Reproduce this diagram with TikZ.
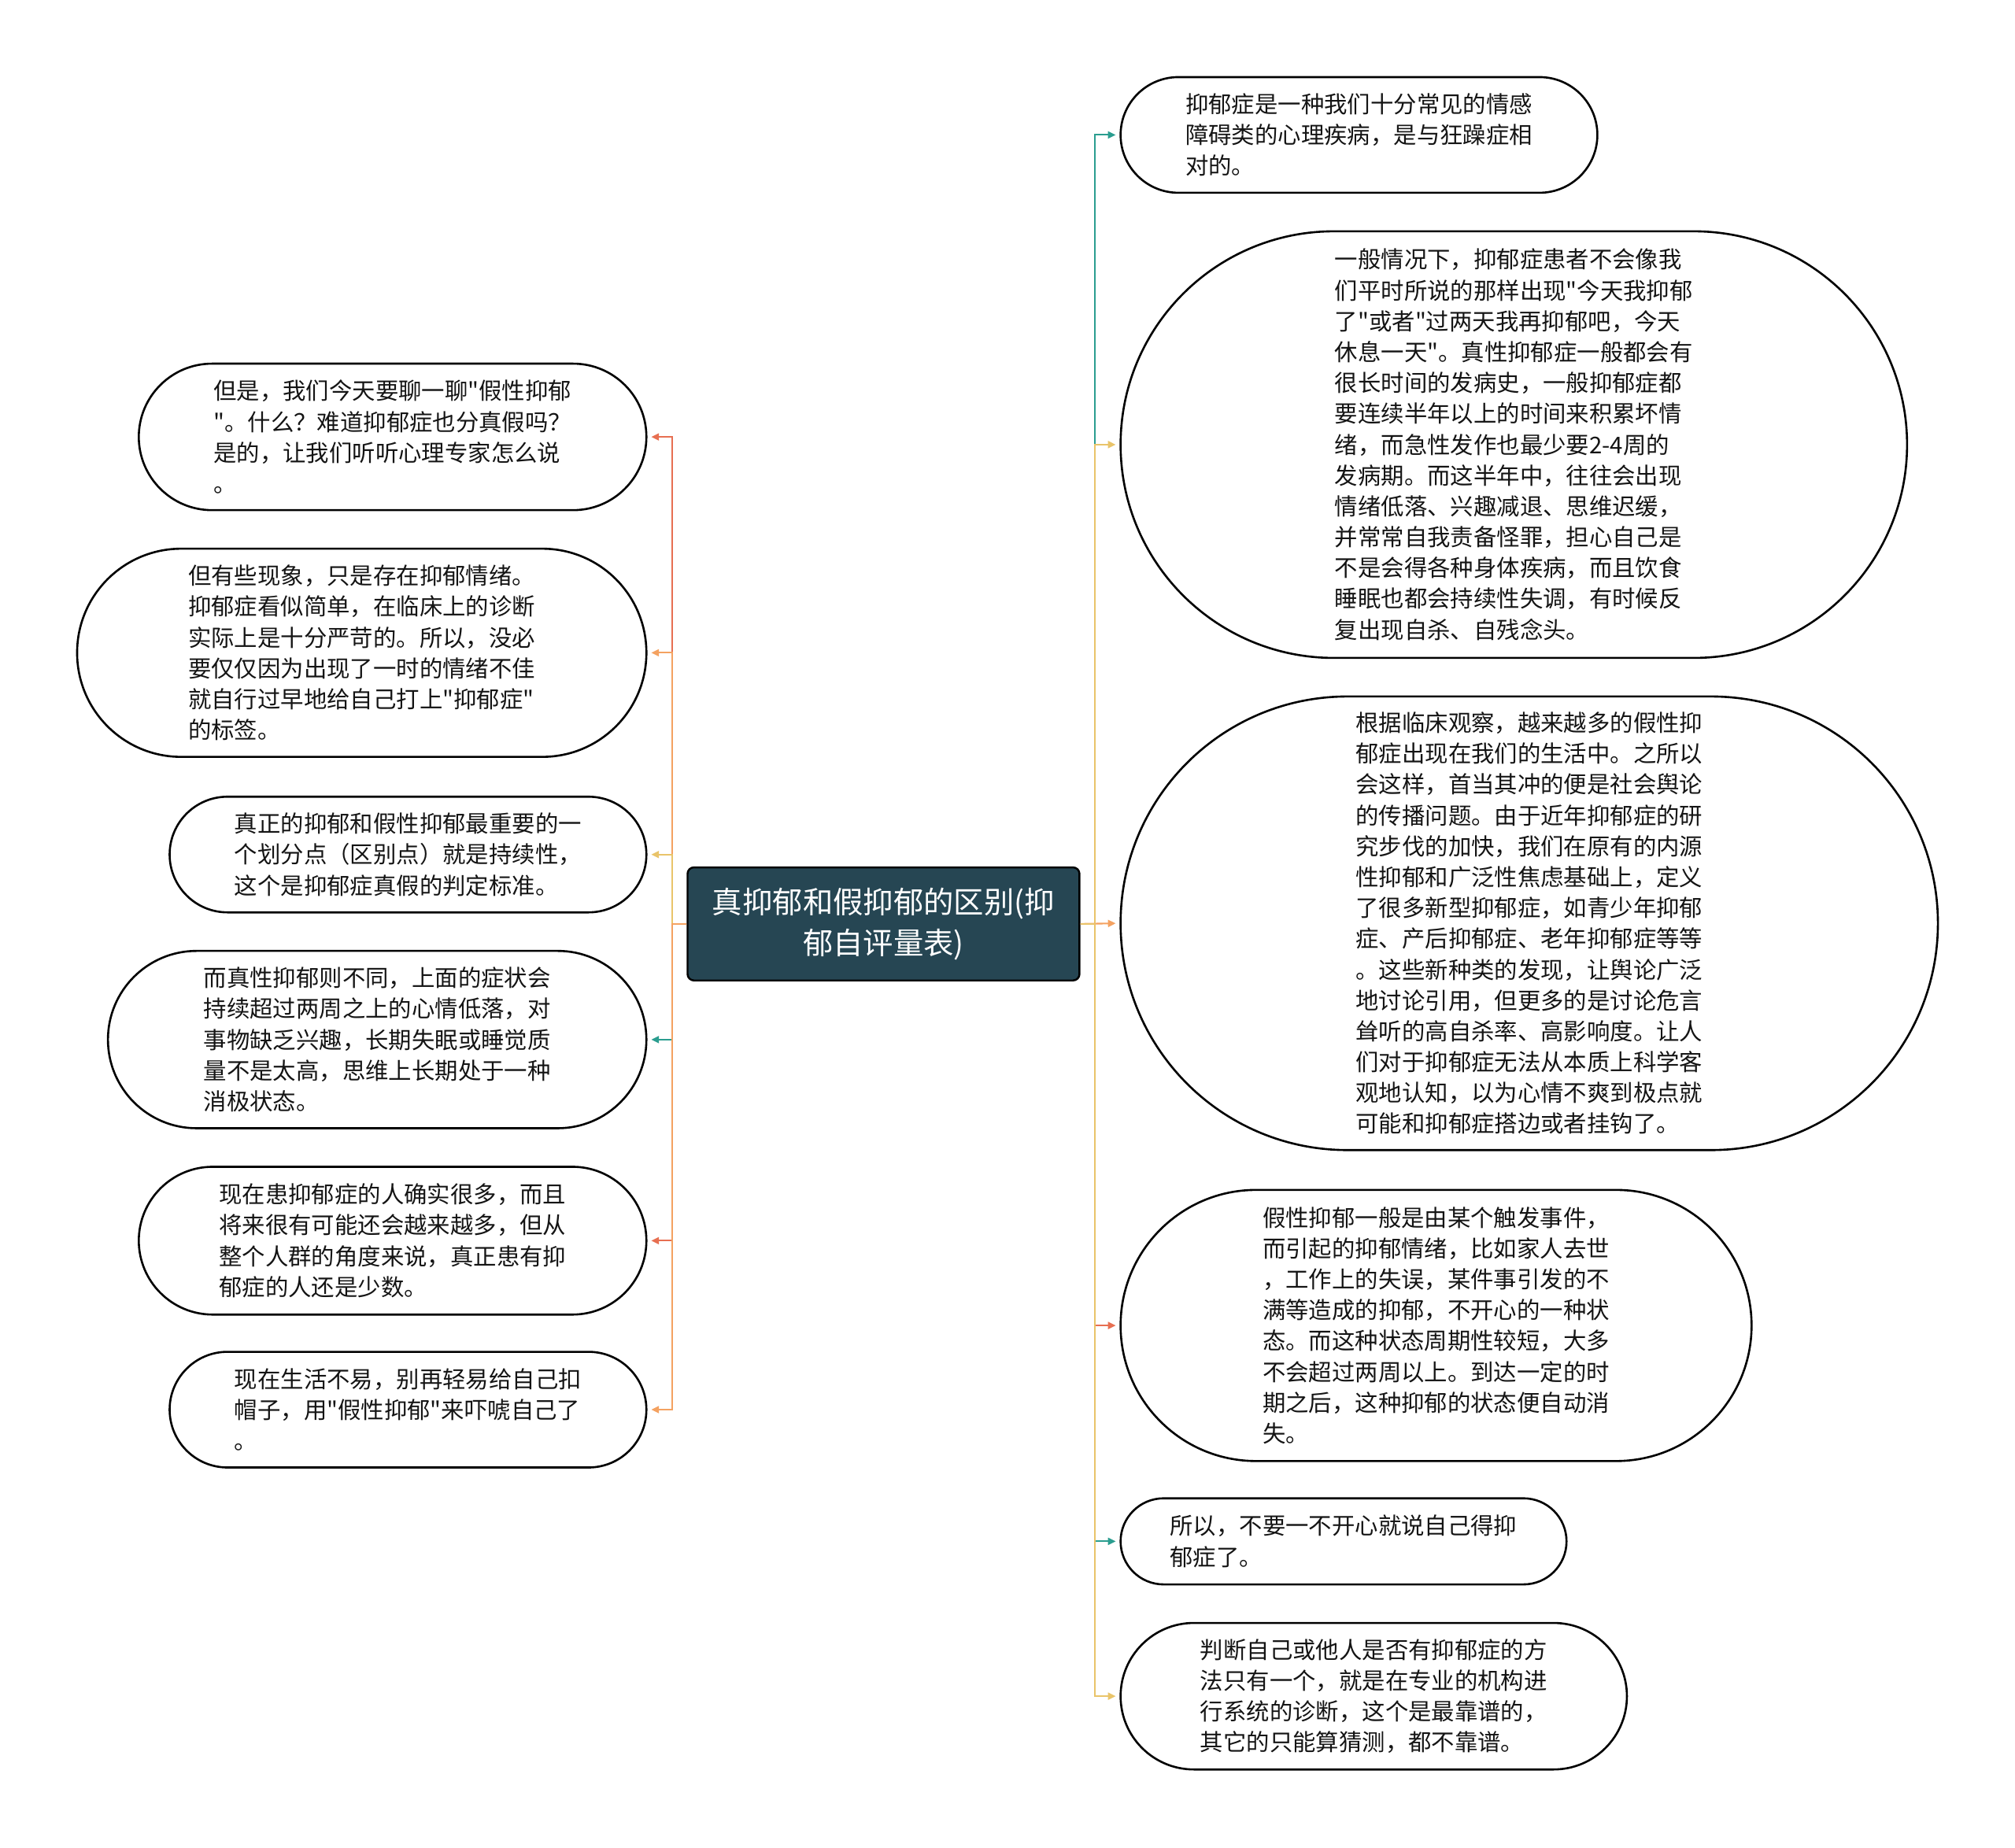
\documentclass[tikz,border=0pt]{standalone}
\usepackage{fontspec}
\setmainfont{Noto Sans CJK SC}[Ligatures=TeXOff]
\usetikzlibrary{shapes.misc,arrows.meta}

\definecolor{hubfill}{HTML}{264653}
\definecolor{cteal}{HTML}{2A9D8F}
\definecolor{cyellow}{HTML}{E9C46A}
\definecolor{corange}{HTML}{F4A261}
\definecolor{cred}{HTML}{E76F51}

\begin{document}
\begin{tikzpicture}[x=1pt,y=-1pt]
  \tikzstyle{topic}=[rounded rectangle,draw,line width=1.6pt,align=left,inner sep=0pt,
                     text=black!92,font=\fontsize{18}{24}\selectfont]
  \tikzstyle{hub}=[rectangle,rounded corners=5pt,draw,line width=1.5pt,fill=hubfill,
                   text=white,align=center,font=\fontsize{23.5}{32}\selectfont]
  \tikzstyle{link}=[line width=1.3pt,-{Triangle[length=6pt,width=5.5pt]},shorten >=3pt]
\useasboundingbox (0,0) rectangle (1568,1438);

\node[hub,minimum width=305pt,minimum height=88pt] (root) at (687.5,719)
  {真抑郁和假抑郁的区别(抑\\郁自评量表)};

% right side
\node[topic,minimum width=371pt,minimum height=90pt] (r1) at (1057.5,105)
  {抑郁症是一种我们十分常见的情感\\障碍类的心理疾病，是与狂躁症相\\对的。};
\node[topic,minimum width=612pt,minimum height=332pt] (r2) at (1178,346)
  {一般情况下，抑郁症患者不会像我\\们平时所说的那样出现"今天我抑郁\\了"或者"过两天我再抑郁吧，今天\\休息一天"。真性抑郁症一般都会有\\很长时间的发病史，一般抑郁症都\\要连续半年以上的时间来积累坏情\\绪，而急性发作也最少要2-4周的\\发病期。而这半年中，往往会出现\\情绪低落、兴趣减退、思维迟缓，\\并常常自我责备怪罪，担心自己是\\不是会得各种身体疾病，而且饮食\\睡眠也都会持续性失调，有时候反\\复出现自杀、自残念头。};
\node[topic,minimum width=636pt,minimum height=353pt] (r3) at (1190,718.5)
  {根据临床观察，越来越多的假性抑\\郁症出现在我们的生活中。之所以\\会这样，首当其冲的便是社会舆论\\的传播问题。由于近年抑郁症的研\\究步伐的加快，我们在原有的内源\\性抑郁和广泛性焦虑基础上，定义\\了很多新型抑郁症，如青少年抑郁\\症、产后抑郁症、老年抑郁症等等\\。这些新种类的发现，让舆论广泛\\地讨论引用，但更多的是讨论危言\\耸听的高自杀率、高影响度。让人\\们对于抑郁症无法从本质上科学客\\观地认知，以为心情不爽到极点就\\可能和抑郁症搭边或者挂钩了。};
\node[topic,minimum width=491pt,minimum height=211pt] (r4) at (1117.5,1031.5)
  {假性抑郁一般是由某个触发事件，\\而引起的抑郁情绪，比如家人去世\\，工作上的失误，某件事引发的不\\满等造成的抑郁，不开心的一种状\\态。而这种状态周期性较短，大多\\不会超过两周以上。到达一定的时\\期之后，这种抑郁的状态便自动消\\失。};
\node[topic,minimum width=347pt,minimum height=67pt] (r5) at (1045.5,1199.5)
  {所以，不要一不开心就说自己得抑\\郁症了。};
\node[topic,minimum width=394pt,minimum height=114pt] (r6) at (1069,1320)
  {判断自己或他人是否有抑郁症的方\\法只有一个，就是在专业的机构进\\行系统的诊断，这个是最靠谱的，\\其它的只能算猜测，都不靠谱。};

% left side
\node[topic,minimum width=395pt,minimum height=114pt] (l1) at (305.5,340)
  {但是，我们今天要聊一聊"假性抑郁\\"。什么？难道抑郁症也分真假吗？\\是的，让我们听听心理专家怎么说\\。};
\node[topic,minimum width=443pt,minimum height=162pt] (l2) at (281.5,508)
  {但有些现象，只是存在抑郁情绪。\\抑郁症看似简单，在临床上的诊断\\实际上是十分严苛的。所以，没必\\要仅仅因为出现了一时的情绪不佳\\就自行过早地给自己打上"抑郁症"\\的标签。};
\node[topic,minimum width=371pt,minimum height=90pt] (l3) at (317.5,665)
  {真正的抑郁和假性抑郁最重要的一\\个划分点（区别点）就是持续性，\\这个是抑郁症真假的判定标准。};
\node[topic,minimum width=419pt,minimum height=138pt] (l4) at (293.5,809)
  {而真性抑郁则不同，上面的症状会\\持续超过两周之上的心情低落，对\\事物缺乏兴趣，长期失眠或睡觉质\\量不是太高，思维上长期处于一种\\消极状态。};
\node[topic,minimum width=395pt,minimum height=115pt] (l5) at (305.5,965.5)
  {现在患抑郁症的人确实很多，而且\\将来很有可能还会越来越多，但从\\整个人群的角度来说，真正患有抑\\郁症的人还是少数。};
\node[topic,minimum width=371pt,minimum height=90pt] (l6) at (317.5,1097)
  {现在生活不易，别再轻易给自己扣\\帽子，用"假性抑郁"来吓唬自己了\\。};

\coordinate (rtrunk) at (852,0);
\coordinate (ltrunk) at (523,0);

% connectors
\draw[link,cteal]   (root.east) -- (root.east -| rtrunk) |- (r1.west);
\draw[link,cyellow] (root.east) -- (root.east -| rtrunk) |- (r2.west);
\draw[link,corange] (root.east) -- (r3.west);
\draw[link,cred]    (root.east) -- (root.east -| rtrunk) |- (r4.west);
\draw[link,cteal]   (root.east) -- (root.east -| rtrunk) |- (r5.west);
\draw[link,cyellow] (root.east) -- (root.east -| rtrunk) |- (r6.west);

\draw[link,cred]    (root.west) -- (root.west -| ltrunk) |- (l1.east);
\draw[link,corange] (root.west) -- (root.west -| ltrunk) |- (l2.east);
\draw[link,cyellow] (root.west) -- (root.west -| ltrunk) |- (l3.east);
\draw[link,cteal]   (root.west) -- (root.west -| ltrunk) |- (l4.east);
\draw[link,cred]    (root.west) -- (root.west -| ltrunk) |- (l5.east);
\draw[link,corange] (root.west) -- (root.west -| ltrunk) |- (l6.east);
\end{tikzpicture}
\end{document}
